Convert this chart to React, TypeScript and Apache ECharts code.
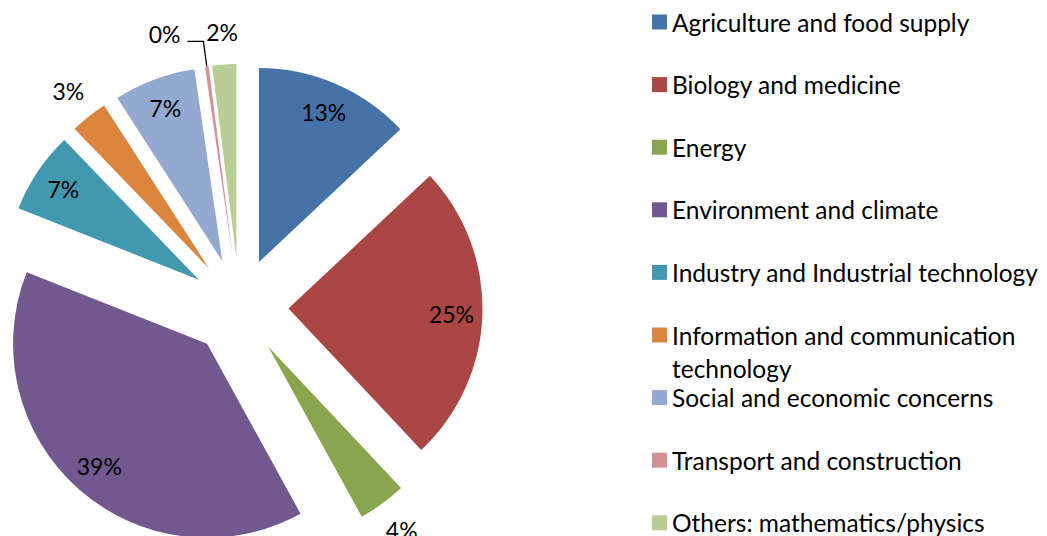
import React, { useEffect, useRef } from "react";
import * as echarts from "echarts";

const CATEGORIES = [
  "Agriculture and food supply",
  "Biology and medicine",
  "Energy",
  "Environment and climate",
  "Industry and Industrial technology",
  "Information and communication technology",
  "Social and economic concerns",
  "Transport and construction",
  "Others: mathematics/physics",
];
const SHARES = [13, 25, 4, 39, 6.8, 3.1, 6.8, 0.3, 2.0];
const COLORS = ["#4572A7", "#AA4643", "#89A54E", "#71588F", "#4198AF", "#DB843D", "#93A9CF", "#D19392", "#B9CD96"];
// where each percentage label sits: in the slice, beyond the slice, or beyond with a leader line
const LABEL_PLACEMENT = ["inside", "inside", "outside", "inside", "inside", "outside", "inside", "leader", "outside"];

const FONT = "Lato, 'Open Sans', sans-serif";
const LABEL_FONT_SIZE = 23;
const LEGEND_FONT_SIZE = 24.5;
const CENTER = [239.5, 307];
const RADIUS = 194;
const EXPLODE = 49;
const LINE_H = 33;

const pct = (p: any) => Math.round(p.percent) + "%";

export default function App() {
  const ref = useRef<HTMLDivElement>(null);
  useEffect(() => {
    if (!ref.current) return;
    const chart = echarts.init(ref.current, undefined, { renderer: "svg" });
    const labelText = { color: "#000", fontFamily: FONT, fontSize: LABEL_FONT_SIZE, formatter: pct };

    const mainSeries = {
      type: "pie",
      center: CENTER,
      radius: RADIUS,
      startAngle: 90,
      clockwise: true,
      selectedMode: "multiple",
      selectedOffset: EXPLODE,
      avoidLabelOverlap: false,
      legendHoverLink: false,
      emphasis: { disabled: true },
      label: { show: false, position: "outside" },
      labelLine: { show: false },
      data: CATEGORIES.map((name, i) => ({
        name,
        value: SHARES[i],
        selected: true,
        itemStyle: { color: COLORS[i] },
        label:
          LABEL_PLACEMENT[i] === "leader"
            ? {
                show: true,
                ...labelText,
                // the label sits a little above the end of its leader line
                formatter: (p: any) => pct(p) + "\n",
                lineHeight: 14,
                distanceToLabelLine: 7,
              }
            : { show: false },
        labelLine:
          LABEL_PLACEMENT[i] === "leader"
            ? { show: true, length: 25, length2: 16, lineStyle: { color: "#000", width: 1.3 } }
            : { show: false },
      })),
    };

    const labelSeries = (kind: string, labelRadius: number) => ({
      type: "pie",
      center: CENTER,
      radius: labelRadius * 2,
      startAngle: 90,
      clockwise: true,
      selectedMode: "multiple",
      selectedOffset: EXPLODE,
      silent: true,
      avoidLabelOverlap: false,
      legendHoverLink: false,
      emphasis: { disabled: true },
      itemStyle: { color: "rgba(0,0,0,0)" },
      label: { show: false, position: "inside" },
      labelLine: { show: false },
      data: SHARES.map((v, i) => ({
        value: v,
        selected: true,
        label: LABEL_PLACEMENT[i] === kind ? { show: true, position: "inside", ...labelText } : { show: false },
      })),
    });

    const legends = CATEGORIES.map((name, i) => {
      const wrapped = name === "Information and communication technology";
      const rowCenter = 22 + i * 62.6;
      return {
        data: [name],
        orient: "vertical",
        left: 652,
        top: rowCenter - (wrapped ? 1.5 : 0.5) * LINE_H,
        padding: 0,
        icon: "rect",
        itemWidth: 15,
        itemHeight: 15,
        selectedMode: false,
        // the wrapped entry keeps its first line level with the colour box
        formatter: (n: string) => (wrapped ? "\nInformation and communication\ntechnology" : n),
        textStyle: {
          color: "#000",
          fontFamily: FONT,
          fontSize: LEGEND_FONT_SIZE,
          lineHeight: LINE_H,
        },
      };
    });

    chart.setOption({
      animation: false,
      backgroundColor: "#fff",
      legend: legends,
      series: [mainSeries, labelSeries("inside", 160), labelSeries("outside", 224)],
    });
    return () => chart.dispose();
  }, []);
  return (
    <div
      ref={ref}
      style={{ position: "absolute", left: 0, top: 0, width: 1047, height: 536 }}
    />
  );
}
